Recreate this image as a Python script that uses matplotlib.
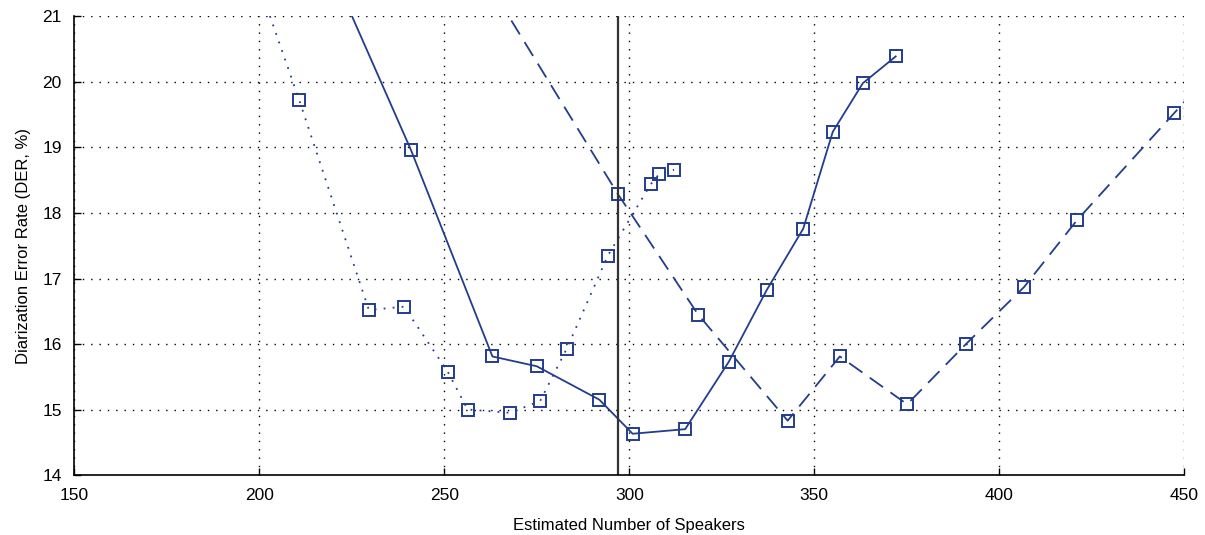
import matplotlib.pyplot as plt

# estimated speaker count vs DER for three clustering setups
x_dotted = [200, 210.8, 229.6, 239.1, 250.9, 256.3, 267.8, 275.9, 283.1, 294.2, 305.8, 308.0, 312.1]
y_dotted = [21.47, 19.72, 16.52, 16.57, 15.58, 15.0, 14.95, 15.13, 15.93, 17.35, 18.44, 18.59, 18.66]

x_solid = [220, 241.0, 263.0, 275.0, 291.9, 300.9, 315.1, 326.9, 337.1, 347.0, 355.0, 363.1, 372.0]
y_solid = [21.65, 18.96, 15.81, 15.66, 15.15, 14.63, 14.70, 15.73, 16.82, 17.76, 19.24, 19.98, 20.39]

x_dashed = [262, 296.9, 318.6, 342.8, 356.9, 375.1, 391.0, 406.7, 421.0, 447.2, 462]
y_dashed = [21.5, 18.29, 16.45, 14.83, 15.81, 15.08, 16.0, 16.87, 17.89, 19.52, 20.45]

true_speakers = 297

blue = '#233d8e'
plt.rcParams['font.family'] = ['Liberation Sans', 'DejaVu Sans']

fig = plt.figure(figsize=(12.05, 5.35), dpi=100)
ax = fig.add_axes([0.0617, 0.1121, 0.9211, 0.8571])

mk = dict(marker='s', markersize=8.5, fillstyle='none', markeredgewidth=1.4, color=blue)
ax.plot(x_dotted, y_dotted, linestyle=(0, (1, 4)), linewidth=1.3, **mk)
ax.plot(x_solid, y_solid, linestyle='-', linewidth=1.3, **mk)
ax.plot(x_dashed, y_dashed, linestyle=(0, (9, 5)), linewidth=1.3, **mk)

ax.axvline(true_speakers, color='#333333', linewidth=1.6)

ax.set_xlim(150, 450)
ax.set_ylim(14, 21)
ax.set_xticks(range(150, 451, 50))
ax.set_yticks(range(14, 22))
ax.grid(True, color='black', linestyle=(0, (1, 5)), linewidth=1.0)
ax.tick_params(direction='in', length=5, labelsize=12.5, width=1)
ax.tick_params(axis='x', pad=9)
ax.tick_params(axis='y', pad=9)
ax.spines['top'].set_visible(False)
ax.spines['right'].set_visible(False)
ax.spines['left'].set_linewidth(1.2)
ax.spines['bottom'].set_linewidth(1.2)

ax.set_xlabel('Estimated Number of Speakers', fontsize=12, labelpad=11)
ax.set_ylabel('Diarization Error Rate (DER, %)', fontsize=12, labelpad=8)

fig.savefig('out.png', dpi=100)
